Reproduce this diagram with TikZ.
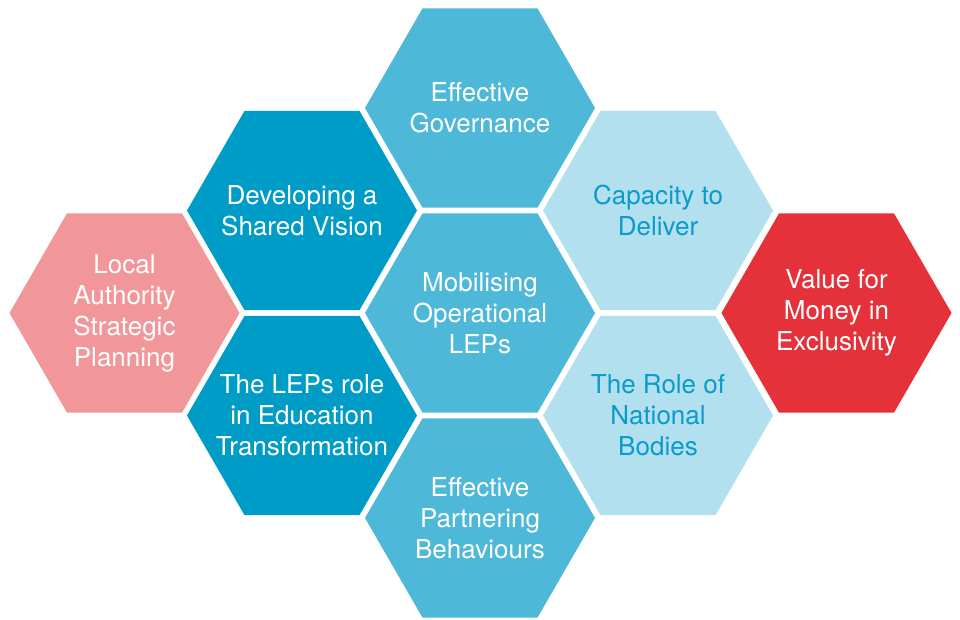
\documentclass[tikz,border=0pt]{standalone}
\usepackage{fontspec}
\setmainfont{TeX Gyre Heros}
\usetikzlibrary{shapes.geometric}

\definecolor{hexdark}{HTML}{009CC8}
\definecolor{hexmid}{HTML}{4EB8D8}
\definecolor{hexlight}{HTML}{B2E0EE}
\definecolor{hexpink}{HTML}{F29799}
\definecolor{hexred}{HTML}{E5323A}
\definecolor{textblue}{HTML}{0B9BCB}

\tikzset{
  hexa/.style={regular polygon, regular polygon sides=6, minimum size=5.75cm,
    inner sep=0pt, outer sep=0pt, draw=none, fill=#1},
  label/.style={align=center, text=white, font=\fontsize{18.5}{22}\selectfont},
}

\begin{document}
\begin{tikzpicture}[x=0.025cm, y=-0.025cm]
        \useasboundingbox (0,0) rectangle (960,619);

        % the cells
        \node[hexa=hexmid] (gov) at (480,108) {};
        \node[hexa=hexdark] (vision) at (302,210.5) {};
        \node[hexa=hexlight] (capacity) at (658,210.5) {};
        \node[hexa=hexpink] (planning) at (124.5,313) {};
        \node[hexa=hexmid] (leps) at (480,313) {};
        \node[hexa=hexred] (money) at (836.5,313) {};
        \node[hexa=hexdark] (role) at (302,415.5) {};
        \node[hexa=hexlight] (bodies) at (658,415.5) {};
        \node[hexa=hexmid] (partner) at (480,518) {};

        % their texts
        \node[label] (gov-t) at (gov) {Effective\\Governance};
        \node[label] (vision-t) at (vision) {Developing a\\Shared Vision};
        \node[label, text=textblue] (capacity-t) at (capacity) {Capacity to\\Deliver};
        \node[label] (planning-t) at (planning) {Local\\Authority\\Strategic\\Planning};
        \node[label] (leps-t) at (leps) {Mobilising\\Operational\\LEPs};
        \node[label] (money-t) at (money) {Value for\\Money in\\Exclusivity};
        \node[label] (role-t) at (role) {The LEPs role\\in Education\\Transformation};
        \node[label, text=textblue] (bodies-t) at (bodies) {The Role of\\National\\Bodies};
        \node[label] (partner-t) at (partner) {Effective\\Partnering\\Behaviours};

    \end{tikzpicture}
\end{document}
